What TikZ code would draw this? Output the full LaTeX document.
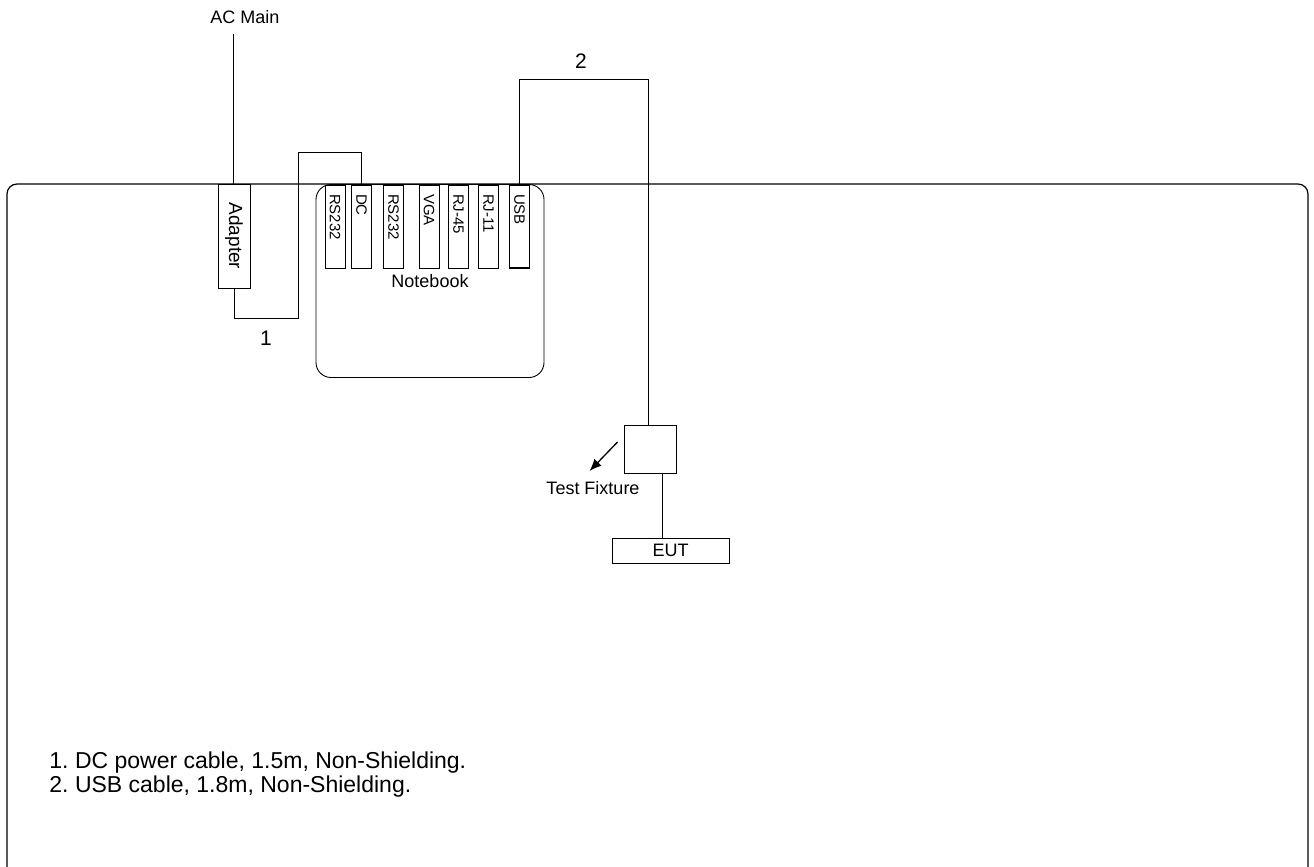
\documentclass[tikz,border=0pt]{standalone}
\usepackage{fontspec}
\setmainfont{Liberation Sans}
\usetikzlibrary{arrows.meta,calc}
\begin{document}
\frenchspacing
\begin{tikzpicture}[x=1pt,y=-1pt,line width=0.9pt,
  portbox/.style={draw,rotate=-90,minimum width=83pt,minimum height=20pt,inner ysep=0pt,
    inner xsep=9pt,text width=65pt,align=left,
    font=\fontsize{15}{16}\selectfont,anchor=center},
  lbl/.style={font=\fontsize{18}{21}\selectfont,inner sep=0pt},
  num/.style={font=\fontsize{21}{24}\selectfont,inner sep=0pt}]
\useasboundingbox (0,0) rectangle (1314,867);
% table
\draw[line width=1.2pt,rounded corners=10pt] (7,872) -- (7,184) -- (1308,184) -- (1308,872);
% notebook
\node[draw,rounded corners=15pt,minimum width=228pt,minimum height=193pt,inner sep=0pt] (nb) at (430,281) {};
\node[lbl] (nbl) at (430,281) {Notebook};
% ports
\node[portbox] (p1) at (335,226.5) {RS232};
\node[portbox] (dc) at (361.5,226.5) {DC};
\node[portbox] (p3) at (393.5,226.5) {RS232};
\node[portbox] (vga) at (429,226.5) {VGA};
\node[portbox] (rj45) at (458.5,226.5) {RJ-45};
\node[portbox] (rj11) at (488.5,226.5) {RJ-11};
\node[portbox,line width=1.5pt] (usb) at (519.5,226.5) {USB};
% adapter
\node[draw,rotate=-90,minimum width=104pt,minimum height=32pt,inner sep=0pt,
  font=\fontsize{19}{21}\selectfont] (ad) at (234,236) {Adapter};
\node[lbl] (ac) at (245,17) {AC Main};
\coordinate (acend) at (233,34);
\draw (acend) -- (acend |- ad.west);
% cable 1
\draw (ad.east) |- (298,318) -- (298,152) -| (dc.west);
\node[num] (n1) at (266,338) {1};
% fixture and EUT
\node[draw,minimum width=52pt,minimum height=48pt,inner sep=0pt] (fix) at (650,449) {};
\node[draw,minimum width=117pt,minimum height=25pt,inner sep=0pt,
  font=\fontsize{18}{20}\selectfont] (eut) at (670.5,550.5) {EUT};
\draw (usb.west) |- ($(fix.north)+(-2,-345)$) -- ($(fix.north)+(-2,0)$);
\node[num] (n2) at (581,61) {2};
\draw ([xshift=12pt]fix.south) -- ([xshift=12pt]fix.south |- eut.north);
\node[lbl] (tf) at (593,488) {Test Fixture};
\draw[line width=1.3pt,-{Latex[length=12pt,width=10pt]}] ($(fix.west)+(-6,-7)$) -- ($(fix.west)+(-34,22)$);
% legend
\node[anchor=west,align=left,font=\fontsize{23}{24}\selectfont,inner sep=0pt] (leg) at (49,775)
  {1. DC power cable, 1.5m, Non-Shielding.\\2. USB cable, 1.8m, Non-Shielding.};
\end{tikzpicture}
\end{document}
